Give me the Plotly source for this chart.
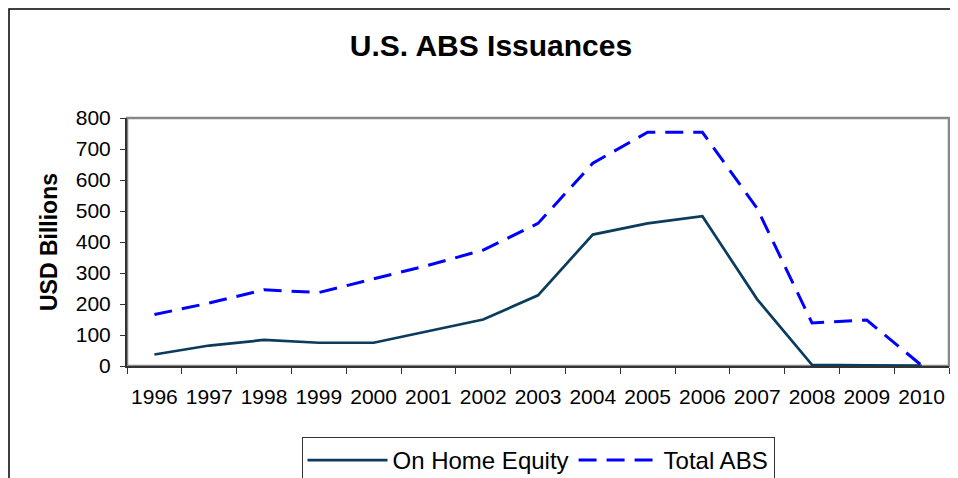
import plotly.graph_objects as go

years = [str(y) for y in range(1996, 2011)]
home_equity = [37, 66, 84, 75, 75, 112, 150, 228, 424, 460, 483, 215, 4, 2, 1]
total_abs = [166, 203, 246, 237, 281, 325, 374, 460, 654, 754, 754, 508, 139, 148, 2]
y_ticks = list(range(0, 801, 100))

# page body adds an 8px offset, so the figure is laid out 8px up/left
W, H = 950, 470
L, R, T, B = 119, 9, 110, 112
pw, ph = W - L - R, H - T - B

fig = go.Figure()
fig.add_trace(go.Scatter(x=years, y=home_equity, name="On Home Equity", mode="lines",
                         line=dict(color="#0B3C5D", width=2.7)))
fig.add_trace(go.Scatter(x=years, y=total_abs, name="Total ABS", mode="lines",
                         line=dict(color="#0000FF", width=3, dash="18px,10px")))

fig.update_layout(
    width=W, height=H,
    margin=dict(l=L, r=R, t=T, b=B, autoexpand=False),
    paper_bgcolor="white", plot_bgcolor="white",
    font=dict(family="Liberation Sans, Arial, sans-serif", size=21, color="black"),
    title=dict(text="<b>U.S. ABS Issuances</b>", x=483 / W, xanchor="center",
               y=1 - 37 / H, yanchor="middle", font=dict(size=30)),
    showlegend=True,
    legend=dict(orientation="h", x=0.5, xanchor="center", y=-71 / ph, yanchor="top",
                bordercolor="#333333", borderwidth=1, font=dict(size=24),
                itemwidth=80, tracegroupgap=0),
)
fig.update_xaxes(type="category", range=[-0.5, 14.5], showgrid=False, zeroline=False,
                 showline=True, linecolor="#333333", linewidth=2, automargin=False,
                 ticks="outside", tickson="boundaries", ticklen=6, tickcolor="#333333",
                 tickangle=0, ticklabelstandoff=11)
fig.update_yaxes(range=[0, 800], tickvals=y_ticks, showgrid=False, zeroline=False,
                 showline=True, linecolor="#333333", linewidth=2, automargin=False,
                 ticks="outside", ticklen=5, tickcolor="#333333", ticklabelstandoff=5,
                 title=dict(text="<b>USD Billions</b>", font=dict(size=23), standoff=12))

# gray plot-area frame (top and right)
fig.add_shape(type="rect", xref="x domain", yref="y domain", x0=0, x1=1, y0=0, y1=1,
              line=dict(color="#888888", width=2.5), layer="below")
# outer chart frame
fig.add_shape(type="rect", xref="paper", yref="paper",
              x0=-(L - 1) / pw, x1=1.3, y0=-0.8, y1=1 + (T - 1) / ph,
              line=dict(color="black", width=1.5))

fig.write_html("out.html")
